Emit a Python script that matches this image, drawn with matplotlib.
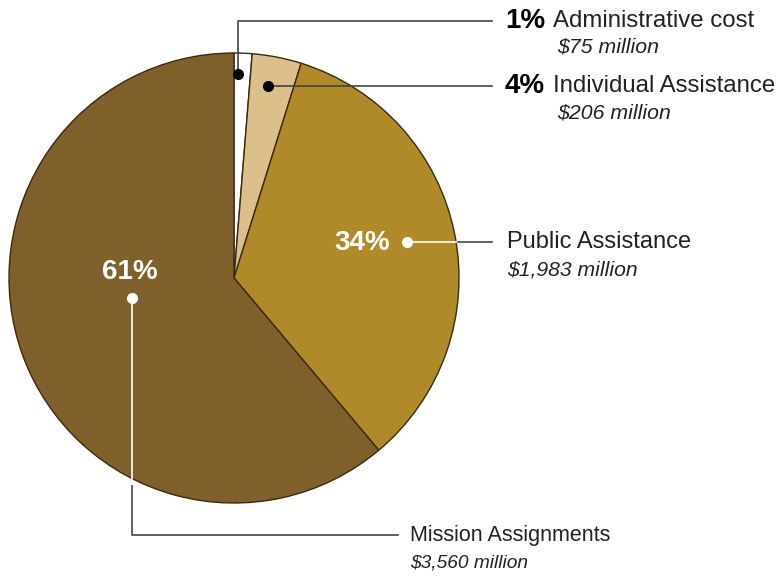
import matplotlib.pyplot as plt

# spending by category, millions of dollars
labels = ["Administrative cost", "Individual Assistance", "Public Assistance", "Mission Assignments"]
amounts = [75, 206, 1983, 3560]
pct_labels = ["1%", "4%", "34%", "61%"]
amount_labels = ["$75 million", "$206 million", "$1,983 million", "$3,560 million"]
colors = ["#ffffff", "#dcc08a", "#b08a28", "#80602a"]

W, H = 783, 576
fig = plt.figure(figsize=(W / 100, H / 100), dpi=100)
ax = fig.add_axes([0, 0, 1, 1])
plt.rcParams["font.family"] = ["Liberation Sans", "DejaVu Sans"]

cx, cy, r = 234, H - 278, 225
ax.pie(amounts, colors=colors, startangle=90, counterclock=False,
       center=(cx, cy), radius=r, frame=True,
       wedgeprops=dict(edgecolor="#3a2a12", linewidth=1.0))
ax.set_xlim(0, W)
ax.set_ylim(0, H)
ax.set_aspect("equal")
ax.axis("off")

line_c = "#444444"
txt_c = "#222222"
def y(p):
    return H - p

# Administrative cost
ax.plot([238, 238, 492], [y(74), y(21), y(21)], color=line_c, lw=1.2, zorder=3)
ax.plot(238, y(74), "o", color="black", ms=7, zorder=4)
ax.text(505, y(21), pct_labels[0], fontsize=20, fontweight="bold", va="center", ha="left")
ax.text(553, y(21), labels[0], fontsize=17.3, va="center", ha="left", color=txt_c)
ax.text(557, y(47), amount_labels[0], fontsize=15.3, style="italic", va="center", ha="left", color=txt_c)

# Individual Assistance
ax.plot([268, 492], [y(86), y(86)], color=line_c, lw=1.2, zorder=3)
ax.plot(268, y(86), "o", color="black", ms=7, zorder=4)
ax.text(505, y(86), pct_labels[1], fontsize=20, fontweight="bold", va="center", ha="left")
ax.text(553, y(86), labels[1], fontsize=17.3, va="center", ha="left", color=txt_c)
ax.text(557, y(113), amount_labels[1], fontsize=15.3, style="italic", va="center", ha="left", color=txt_c)

# Public Assistance
ax.plot([407, 458], [y(242), y(242)], color="white", lw=1.2, zorder=3)
ax.plot([458, 492], [y(242), y(242)], color=line_c, lw=1.2, zorder=3)
ax.plot(407, y(242), "o", color="white", ms=7, zorder=4)
ax.text(362, y(243), pct_labels[2], fontsize=20, fontweight="bold", color="white", va="center", ha="center")
ax.text(507, y(242), labels[2], fontsize=17, va="center", ha="left", color=txt_c)
ax.text(507, y(270), amount_labels[2], fontsize=15.2, style="italic", va="center", ha="left", color=txt_c)

# Mission Assignments
ax.plot([132, 132], [y(298), y(486)], color="white", lw=1.2, zorder=3)
ax.plot([132, 132, 398], [y(486), y(535), y(535)], color=line_c, lw=1.2, zorder=3)
ax.plot(132, y(298), "o", color="white", ms=7, zorder=4)
ax.text(130, y(272), pct_labels[3], fontsize=20, fontweight="bold", color="white", va="center", ha="center")
ax.text(410, y(536), labels[3], fontsize=15.5, va="center", ha="left", color=txt_c)
ax.text(410, y(563), amount_labels[3], fontsize=13.8, style="italic", va="center", ha="left", color=txt_c)

fig.savefig("out.png", dpi=100, facecolor="white")
